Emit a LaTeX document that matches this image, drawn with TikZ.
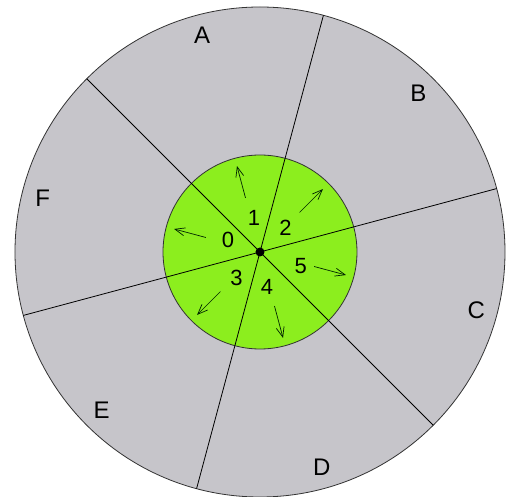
\documentclass[tikz,border=0pt]{standalone}
\usepackage{fontspec}
\setmainfont{Liberation Sans}
\usetikzlibrary{arrows.meta}
\definecolor{discgray}{RGB}{198,197,202}
\definecolor{coregreen}{RGB}{140,238,30}
\begin{document}
\begin{tikzpicture}[x=1pt,y=1pt,
  lbl/.style={font=\fontsize{24}{28}\selectfont,inner sep=0pt},
  num/.style={font=\fontsize{22}{26}\selectfont,inner sep=0pt},
  arr/.style={-{Straight Barb[length=10pt,width=8pt]},line width=0.7pt,draw=black!85!green}]
\useasboundingbox (-260,-245) rectangle (252,252);
% outer disc and green core
\draw[fill=discgray,draw=black!80,line width=0.8pt] (0,0) circle (245);
\draw[fill=coregreen,draw=black!80,line width=0.8pt] (0,0) circle (97);
% dividing lines
\foreach \i/\a in {1/75,2/15,3/135} {
  \coordinate (p\i) at (\a:245);
  \coordinate (q\i) at (\a+180:245);
  \draw[line width=0.8pt] (p\i) -- (q\i);
}
\node[circle,fill=black,inner sep=0pt,minimum size=9pt] (o) at (0,0) {};
% outer sectors
\foreach \t/\a in {A/105,B/45,C/-15,D/286,E/225,F/166}
  \node[lbl] (s\t) at (\a:224) {\t};
% inner sectors
\foreach \t/\a/\r in {0/160/34,1/100/35,2/43/35,3/228/35,4/-79/36,5/-19/43}
  \node[num] (n\t) at (\a:\r) {\t};
\foreach \t/\a in {0/165,1/105,2/45,3/225,4/285,5/-15} {
  \coordinate (t\t) at (\a:56);
  \coordinate (h\t) at (\a:89);
  \draw[arr] (t\t) -- (h\t);
}
\end{tikzpicture}
\end{document}
